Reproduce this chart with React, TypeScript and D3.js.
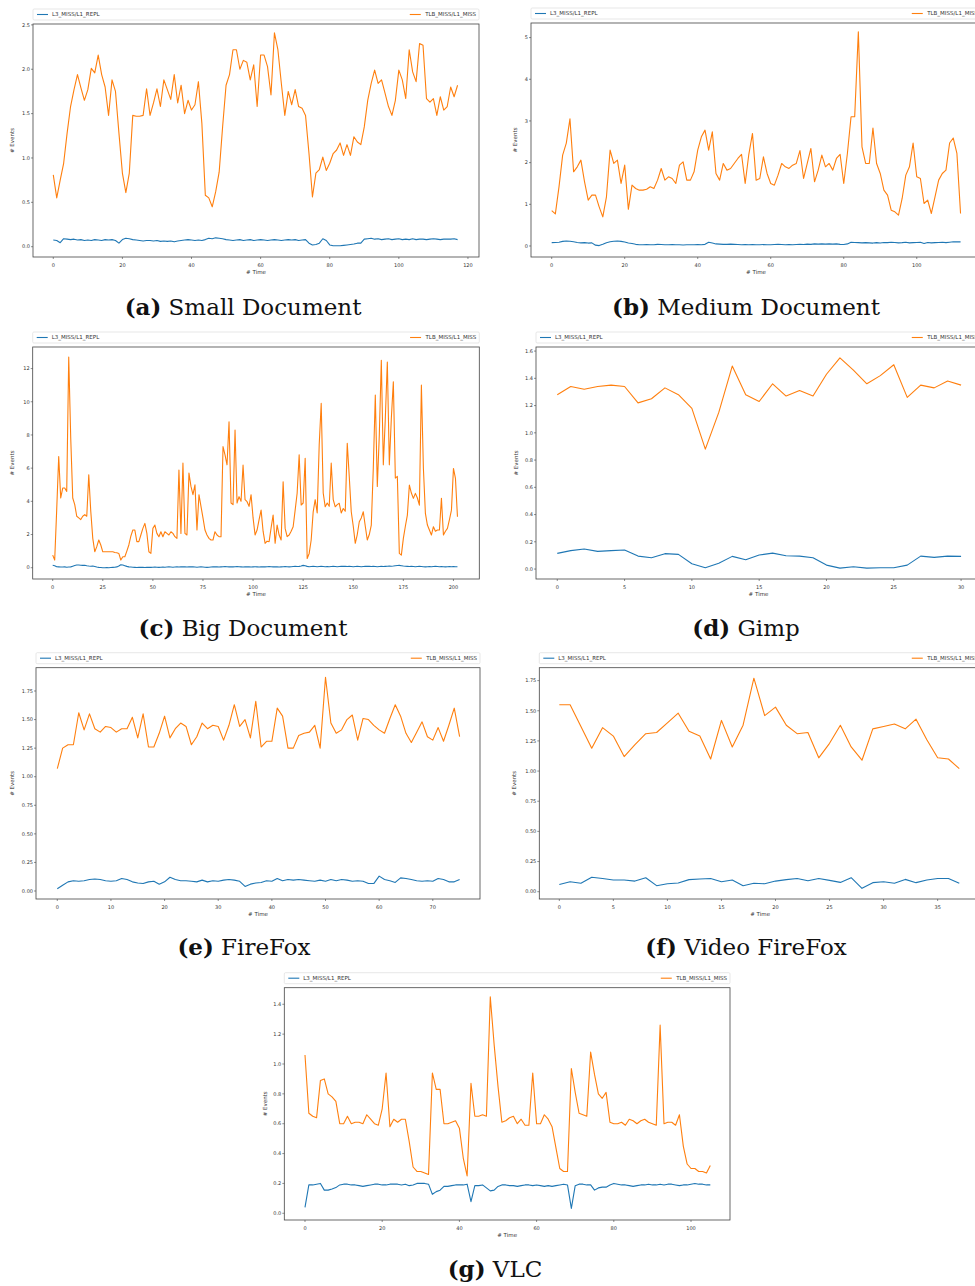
import React, { useEffect, useRef } from "react";
import * as d3 from "d3";

// ---------- DATA ----------
const smallTLB = [0.81,0.55,0.75,0.94,1.28,1.58,1.77,1.94,1.79,1.65,
1.77,2.01,1.96,2.16,1.94,1.80,1.48,1.88,1.75,1.28,
0.83,0.61,0.83,1.48,1.47,1.47,1.48,1.78,1.48,1.62,
1.78,1.58,1.88,1.77,1.66,1.94,1.62,1.82,1.50,1.65,
1.54,1.60,1.86,1.39,0.58,0.55,0.45,0.62,0.84,1.35,
1.82,1.94,2.22,2.22,2.00,2.10,2.08,1.88,2.05,1.58,
2.16,2.16,2.03,1.71,2.41,2.22,1.84,1.48,1.75,1.60,
1.77,1.58,1.56,1.48,1.05,0.56,0.83,0.87,1.01,0.86,
0.94,1.05,1.09,1.17,1.03,1.15,1.03,1.24,1.18,1.15,
1.35,1.65,1.84,1.99,1.84,1.88,1.73,1.58,1.48,1.65,
1.99,1.88,1.67,2.22,1.97,1.86,2.29,2.27,1.67,1.63,
1.67,1.48,1.69,1.54,1.58,1.80,1.69,1.82];
const smallL3 = [0.075,0.07,0.045,0.09,0.085,0.08,0.085,0.075,0.08,0.07,
0.075,0.07,0.08,0.075,0.07,0.08,0.075,0.08,0.07,0.04,
0.08,0.095,0.09,0.08,0.075,0.07,0.065,0.07,0.07,0.065,
0.07,0.06,0.065,0.06,0.065,0.055,0.065,0.07,0.075,0.08,
0.075,0.07,0.075,0.07,0.08,0.095,0.09,0.1,0.095,0.09,
0.08,0.075,0.07,0.075,0.08,0.07,0.075,0.08,0.07,0.075,
0.08,0.075,0.07,0.075,0.08,0.075,0.07,0.075,0.08,0.075,
0.08,0.07,0.075,0.08,0.04,0.02,0.025,0.04,0.09,0.07,
0.02,0.01,0.01,0.01,0.015,0.02,0.025,0.03,0.04,0.04,
0.085,0.09,0.095,0.085,0.09,0.08,0.085,0.09,0.08,0.085,
0.09,0.08,0.085,0.08,0.09,0.08,0.085,0.085,0.08,0.085,
0.09,0.085,0.08,0.085,0.085,0.085,0.09,0.08];

const medTLB = [0.85,0.77,1.42,2.18,2.47,3.05,1.78,1.90,2.06,1.54,
1.10,1.22,1.22,0.94,0.70,1.18,2.30,1.98,2.06,1.50,
1.94,0.88,1.46,1.38,1.34,1.34,1.36,1.42,1.38,1.58,
1.86,1.58,1.66,1.62,1.50,1.94,2.02,1.58,1.58,1.78,
2.30,2.62,2.78,2.30,2.74,1.74,1.58,1.98,1.82,1.86,
1.98,2.10,2.20,1.50,2.20,2.70,1.58,1.62,2.14,1.74,
1.50,1.46,1.70,1.98,1.90,1.86,1.94,1.98,2.29,1.62,
1.98,2.34,1.54,1.82,2.18,1.90,1.98,1.82,2.10,2.20,
1.50,2.22,3.10,3.10,5.14,2.38,1.98,1.98,2.83,1.98,
1.74,1.34,1.22,0.86,0.82,0.74,1.14,1.70,1.90,2.47,
1.66,1.62,1.02,1.10,0.78,1.18,1.58,1.74,1.82,2.47,
2.59,2.22,0.78];
const medL3 = [0.08,0.085,0.09,0.11,0.12,0.115,0.1,0.085,0.075,0.08,
0.07,0.075,0.02,0.01,0.04,0.08,0.1,0.115,0.12,0.11,
0.095,0.07,0.06,0.04,0.03,0.03,0.035,0.03,0.03,0.04,
0.035,0.03,0.03,0.035,0.03,0.03,0.025,0.03,0.03,0.03,
0.035,0.03,0.04,0.09,0.07,0.05,0.045,0.04,0.04,0.045,
0.04,0.035,0.03,0.035,0.03,0.035,0.03,0.03,0.035,0.03,
0.03,0.035,0.04,0.035,0.03,0.035,0.03,0.035,0.04,0.035,
0.045,0.04,0.05,0.045,0.05,0.045,0.05,0.045,0.05,0.04,
0.035,0.05,0.09,0.085,0.08,0.075,0.08,0.075,0.07,0.08,
0.07,0.085,0.08,0.09,0.085,0.075,0.08,0.09,0.075,0.08,
0.085,0.09,0.06,0.085,0.075,0.08,0.085,0.09,0.08,0.09,
0.1,0.1,0.1];

const bigTLB = [0.76,0.46,3.5,6.7,4.2,4.8,4.8,4.6,12.7,7.8,
4.2,3.8,3.1,3.0,2.9,3.1,3.2,3.1,5.6,3.4,
1.77,0.96,1.27,1.67,1.37,0.96,0.96,0.96,0.96,0.96,
0.96,0.92,0.90,0.86,0.46,0.66,0.66,1.0,1.37,1.9,
2.27,2.27,1.57,1.57,1.97,2.37,2.67,2.07,0.96,0.86,
2.37,2.57,2.07,1.87,2.17,1.87,2.17,2.07,1.97,2.17,
2.07,1.87,1.77,5.88,2.07,6.3,2.07,1.97,5.7,4.9,
4.4,5.0,2.27,4.4,3.7,3.0,2.27,1.97,1.77,1.67,
1.67,2.17,1.97,1.87,1.87,7.3,6.8,6.2,8.8,3.9,
3.8,8.3,3.9,4.28,4.0,6.18,4.1,3.98,3.7,4.4,
3.0,1.97,2.27,2.9,3.47,2.2,1.47,1.6,1.57,2.4,
3.17,1.47,2.57,1.97,1.67,5.18,2.37,1.87,1.97,2.2,
2.47,3.47,4.5,6.8,3.78,3.9,6.6,0.56,0.86,1.67,
3.37,4.1,3.3,7.4,9.9,4.5,3.67,3.9,3.7,6.3,
4.1,3.67,3.8,3.88,3.3,3.57,3.4,7.5,5.5,3.37,
2.5,1.47,2.0,2.77,3.0,3.37,2.5,1.67,2.0,2.57,
6.0,10.4,4.9,8.0,12.5,6.2,9.0,12.4,6.2,9.0,
11.2,5.4,5.5,0.86,0.76,1.77,2.5,3.17,4.98,4.5,
4.18,4.48,4.2,3.77,11.0,6.0,3.27,2.57,2.27,1.97,
2.47,2.2,2.27,2.27,4.18,1.97,2.2,2.37,2.9,3.47,
5.98,5.38,3.07];
const bigL3 = [0.15,0.12,0.06,0.05,0.04,0.04,0.05,0.03,0.04,0.05,
0.09,0.13,0.16,0.16,0.15,0.14,0.15,0.12,0.10,0.09,
0.10,0.07,0.04,0.02,0.01,0.00,0.00,0.01,0.00,0.01,
0.02,0.03,0.05,0.10,0.18,0.16,0.12,0.08,0.05,0.04,
0.03,0.02,0.01,0.02,0.03,0.02,0.01,0.02,0.03,0.02,
0.03,0.04,0.03,0.02,0.03,0.04,0.03,0.04,0.05,0.04,
0.03,0.04,0.05,0.04,0.05,0.06,0.05,0.04,0.05,0.06,
0.05,0.04,0.03,0.04,0.05,0.04,0.03,0.02,0.03,0.04,
0.05,0.06,0.05,0.04,0.05,0.06,0.07,0.06,0.05,0.06,
0.05,0.06,0.07,0.06,0.05,0.04,0.05,0.06,0.05,0.04,
0.05,0.06,0.05,0.04,0.05,0.06,0.05,0.06,0.07,0.06,
0.05,0.06,0.05,0.04,0.05,0.06,0.07,0.06,0.05,0.06,
0.07,0.08,0.07,0.08,0.10,0.14,0.12,0.08,0.06,0.07,
0.08,0.07,0.06,0.07,0.08,0.07,0.06,0.07,0.06,0.07,
0.08,0.07,0.06,0.07,0.08,0.09,0.08,0.07,0.08,0.07,
0.06,0.07,0.08,0.07,0.06,0.07,0.08,0.09,0.08,0.07,
0.08,0.07,0.06,0.07,0.08,0.07,0.08,0.09,0.10,0.09,
0.10,0.12,0.13,0.14,0.12,0.10,0.09,0.08,0.07,0.08,
0.07,0.06,0.07,0.08,0.07,0.06,0.05,0.06,0.07,0.06,
0.07,0.08,0.07,0.06,0.07,0.06,0.05,0.06,0.07,0.06,
0.07,0.06,0.06];

const gimpTLB = [1.28,1.34,1.32,1.34,1.35,1.34,1.22,1.25,1.33,1.28,
1.18,0.88,1.15,1.49,1.28,1.23,1.36,1.27,1.31,1.27,
1.43,1.55,1.46,1.36,1.42,1.50,1.26,1.35,1.33,1.38,1.35];
const gimpL3 = [0.115,0.135,0.147,0.13,0.135,0.14,0.095,0.083,0.113,0.108,
0.039,0.01,0.042,0.093,0.068,0.103,0.117,0.098,0.095,0.083,
0.029,0.007,0.017,0.007,0.01,0.01,0.029,0.095,0.086,0.095,0.093];

const ffTLB = [1.07,1.25,1.28,1.28,1.56,1.41,1.55,1.42,1.39,1.44,
1.43,1.39,1.42,1.42,1.52,1.34,1.55,1.26,1.26,1.38,
1.53,1.34,1.42,1.47,1.44,1.28,1.35,1.47,1.42,1.45,
1.44,1.32,1.45,1.63,1.44,1.50,1.34,1.66,1.26,1.31,
1.31,1.60,1.53,1.25,1.25,1.36,1.38,1.39,1.45,1.25,
1.87,1.47,1.38,1.41,1.50,1.54,1.32,1.51,1.50,1.45,
1.41,1.38,1.51,1.63,1.53,1.38,1.30,1.39,1.48,1.35,
1.32,1.43,1.31,1.45,1.60,1.35];
const ffL3 = [0.02,0.05,0.08,0.09,0.085,0.09,0.1,0.105,0.1,0.09,
0.085,0.09,0.11,0.1,0.08,0.07,0.065,0.08,0.085,0.06,
0.08,0.12,0.1,0.09,0.09,0.085,0.08,0.095,0.08,0.09,
0.085,0.095,0.1,0.095,0.085,0.04,0.06,0.07,0.075,0.09,
0.085,0.11,0.09,0.1,0.095,0.1,0.095,0.09,0.085,0.095,
0.085,0.1,0.09,0.1,0.095,0.085,0.09,0.085,0.065,0.065,
0.13,0.1,0.09,0.075,0.115,0.11,0.1,0.09,0.085,0.09,
0.085,0.11,0.1,0.08,0.08,0.1];

const vffTLB = [1.55,1.55,1.37,1.19,1.36,1.29,1.12,1.22,1.31,1.32,
1.40,1.48,1.33,1.29,1.10,1.42,1.20,1.38,1.77,1.46,
1.53,1.38,1.31,1.32,1.11,1.23,1.38,1.20,1.09,1.35,
1.37,1.39,1.35,1.43,1.26,1.11,1.10,1.02];
const vffL3 = [0.06,0.083,0.07,0.12,0.11,0.097,0.097,0.088,0.116,0.05,
0.066,0.072,0.10,0.105,0.11,0.083,0.097,0.05,0.07,0.066,
0.088,0.10,0.11,0.091,0.11,0.094,0.077,0.116,0.028,0.075,
0.083,0.07,0.102,0.075,0.097,0.11,0.11,0.07];

const vlcTLB = [1.06,0.67,0.65,0.64,0.89,0.90,0.80,0.78,0.75,0.60,
0.60,0.65,0.60,0.61,0.61,0.60,0.66,0.63,0.60,0.59,
0.70,0.94,0.58,0.63,0.61,0.63,0.63,0.48,0.31,0.28,
0.28,0.27,0.26,0.94,0.83,0.83,0.60,0.60,0.61,0.62,
0.57,0.37,0.25,0.87,0.65,0.65,0.66,0.65,1.45,1.13,
0.85,0.61,0.62,0.64,0.65,0.60,0.63,0.59,0.59,0.94,
0.60,0.60,0.66,0.63,0.58,0.44,0.30,0.28,0.28,0.97,
0.81,0.67,0.66,0.65,1.08,0.93,0.80,0.77,0.81,0.61,
0.60,0.60,0.61,0.59,0.63,0.62,0.60,0.62,0.63,0.61,
0.60,0.59,1.26,0.60,0.61,0.61,0.59,0.66,0.45,0.33,
0.30,0.30,0.28,0.28,0.27,0.32];
const vlcL3 = [0.04,0.19,0.19,0.195,0.2,0.155,0.155,0.163,0.172,0.19,
0.195,0.195,0.19,0.19,0.185,0.18,0.185,0.19,0.195,0.195,
0.19,0.19,0.195,0.195,0.195,0.19,0.195,0.185,0.19,0.2,
0.2,0.2,0.195,0.127,0.145,0.155,0.18,0.18,0.185,0.19,
0.19,0.19,0.195,0.078,0.185,0.185,0.19,0.17,0.15,0.155,
0.18,0.19,0.19,0.185,0.185,0.18,0.185,0.19,0.19,0.185,
0.19,0.185,0.18,0.185,0.18,0.185,0.19,0.195,0.19,0.033,
0.185,0.195,0.195,0.19,0.19,0.155,0.17,0.175,0.175,0.19,
0.2,0.195,0.19,0.19,0.185,0.18,0.185,0.19,0.19,0.195,
0.19,0.19,0.195,0.19,0.195,0.195,0.19,0.185,0.19,0.19,
0.195,0.2,0.195,0.195,0.19,0.19];

const seriesNames = ["L3_MISS/L1_REPL", "TLB_MISS/L1_MISS"];
const captionLabels = ["(a)", "(b)", "(c)", "(d)", "(e)", "(f)", "(g)"];
const captionTexts = ["Small Document", "Medium Document", "Big Document", "Gimp", "FireFox", "Video FireFox", "VLC"];

const xTicksA = [0, 20, 40, 60, 80, 100, 120];
const yTicksA = [0, 0.5, 1.0, 1.5, 2.0, 2.5];
const xTicksB = [0, 20, 40, 60, 80, 100];
const yTicksB = [0, 1, 2, 3, 4, 5];
const xTicksC = [0, 25, 50, 75, 100, 125, 150, 175, 200];
const yTicksC = [0, 2, 4, 6, 8, 10, 12];
const xTicksD = [0, 5, 10, 15, 20, 25, 30];
const yTicksD = [0, 0.2, 0.4, 0.6, 0.8, 1.0, 1.2, 1.4, 1.6];
const xTicksE = [0, 10, 20, 30, 40, 50, 60, 70];
const yTicksE = [0, 0.25, 0.5, 0.75, 1.0, 1.25, 1.5, 1.75];
const xTicksF = [0, 5, 10, 15, 20, 25, 30, 35];
const yTicksF = [0, 0.25, 0.5, 0.75, 1.0, 1.25, 1.5, 1.75];
const xTicksG = [0, 20, 40, 60, 80, 100];
const yTicksG = [0, 0.2, 0.4, 0.6, 0.8, 1.0, 1.2, 1.4];

// ---------- LAYOUT ----------
type Panel = {
  l3: number[]; tlb: number[];
  xTicks: number[]; yTicks: number[]; yFmt: string;
  box: { l: number; r: number; t: number; b: number };
  xDom: [number, number]; yDom: [number, number];
  ylabDx: number; capX: number; capY: number;
};

const panels: Panel[] = [
  { l3: smallL3, tlb: smallTLB, xTicks: xTicksA, yTicks: yTicksA, yFmt: ".1f",
    box: { l: 33, r: 479, t: 24, b: 257 }, xDom: [-5.87, 123.2], yDom: [-0.116, 2.51], ylabDx: -21, capX: 243, capY: 315 },
  { l3: medL3, tlb: medTLB, xTicks: xTicksB, yTicks: yTicksB, yFmt: "d",
    box: { l: 531, r: 981, t: 23, b: 257 }, xDom: [-5.67, 117.6], yDom: [-0.264, 5.35], ylabDx: -16, capX: 746, capY: 315 },
  { l3: bigL3, tlb: bigTLB, xTicks: xTicksC, yTicks: yTicksC, yFmt: "d",
    box: { l: 32.7, r: 479.3, t: 347, b: 579 }, xDom: [-9.98, 212.9], yDom: [-0.68, 13.3], ylabDx: -21, capX: 243, capY: 636 },
  { l3: gimpL3, tlb: gimpTLB, xTicks: xTicksD, yTicks: yTicksD, yFmt: ".1f",
    box: { l: 536, r: 981, t: 347, b: 579 }, xDom: [-1.58, 31.48], yDom: [-0.073, 1.63], ylabDx: -20, capX: 746, capY: 636 },
  { l3: ffL3, tlb: ffTLB, xTicks: xTicksE, yTicks: yTicksE, yFmt: ".2f",
    box: { l: 36, r: 480, t: 667.7, b: 899 }, xDom: [-3.97, 78.8], yDom: [-0.07, 1.954], ylabDx: -24, capX: 244, capY: 955 },
  { l3: vffL3, tlb: vffTLB, xTicks: xTicksF, yTicks: yTicksF, yFmt: ".2f",
    box: { l: 539.3, r: 981, t: 667.7, b: 899 }, xDom: [-1.85, 39.01], yDom: [-0.0605, 1.857], ylabDx: -25, capX: 746, capY: 955 },
  { l3: vlcL3, tlb: vlcTLB, xTicks: xTicksG, yTicks: yTicksG, yFmt: ".1f",
    box: { l: 284.3, r: 730, t: 987.7, b: 1220 }, xDom: [-5.36, 110.1], yDom: [-0.045, 1.511], ylabDx: -19, capX: 495, capY: 1277 },
];

const BLUE = "#1f77b4";
const ORANGE = "#ff7f0e";
const SANS = "DejaVu Sans, sans-serif";
const TICK_FS = 5;
const LEG_FS = 5.5;

function drawPanel(svg: d3.Selection<SVGSVGElement, unknown, null, undefined>, p: Panel, idx: number) {
  const { l, r, t, b } = p.box;
  const x = d3.scaleLinear().domain(p.xDom).range([l, r]);
  const y = d3.scaleLinear().domain(p.yDom).range([b, t]);
  const g = svg.append("g");
  const clipId = `clip-${idx}`;
  g.append("clipPath").attr("id", clipId).append("rect")
    .attr("x", l).attr("y", t).attr("width", r - l).attr("height", b - t);

  const line = d3.line<number>().x((_, i) => x(i)).y((d) => y(d));
  const plot = g.append("g").attr("clip-path", `url(#${clipId})`);
  plot.append("path").attr("d", line(p.l3) as string).attr("fill", "none")
    .attr("stroke", BLUE).attr("stroke-width", 1.1).attr("stroke-linejoin", "round");
  plot.append("path").attr("d", line(p.tlb) as string).attr("fill", "none")
    .attr("stroke", ORANGE).attr("stroke-width", 1.1).attr("stroke-linejoin", "round");

  // frame
  g.append("rect").attr("x", l).attr("y", t).attr("width", r - l).attr("height", b - t)
    .attr("fill", "none").attr("stroke", "#444").attr("stroke-width", 0.8);

  // x ticks
  const xFmt = d3.format("d");
  p.xTicks.forEach((v) => {
    const px = x(v);
    g.append("line").attr("x1", px).attr("x2", px).attr("y1", b).attr("y2", b + 2)
      .attr("stroke", "#444").attr("stroke-width", 0.6);
    g.append("text").attr("x", px).attr("y", b + 9.5).attr("text-anchor", "middle")
      .attr("font-family", SANS).attr("font-size", TICK_FS).attr("fill", "#333").text(xFmt(v));
  });
  // y ticks
  const yFmt = d3.format(p.yFmt);
  p.yTicks.forEach((v) => {
    const py = y(v);
    g.append("line").attr("x1", l - 2).attr("x2", l).attr("y1", py).attr("y2", py)
      .attr("stroke", "#444").attr("stroke-width", 0.6);
    g.append("text").attr("x", l - 3).attr("y", py).attr("dy", "0.35em").attr("text-anchor", "end")
      .attr("font-family", SANS).attr("font-size", TICK_FS).attr("fill", "#333").text(yFmt(v));
  });

  // axis labels
  g.append("text").attr("transform", `translate(${l + p.ylabDx},${(t + b) / 2}) rotate(-90)`)
    .attr("text-anchor", "middle").attr("dy", "0.35em")
    .attr("font-family", SANS).attr("font-size", LEG_FS).attr("fill", "#333").text("# Events");
  g.append("text").attr("x", (l + r) / 2).attr("y", b + 17).attr("text-anchor", "middle")
    .attr("font-family", SANS).attr("font-size", LEG_FS).attr("fill", "#333").text("# Time");

  // legend
  const lt = t - 15, lb = t - 4, lc = (lt + lb) / 2;
  g.append("rect").attr("x", l).attr("y", lt).attr("width", r - l).attr("height", lb - lt)
    .attr("rx", 1.2).attr("fill", "#fff").attr("stroke", "#ddd").attr("stroke-width", 0.7);
  g.append("line").attr("x1", l + 4).attr("x2", l + 15).attr("y1", lc).attr("y2", lc)
    .attr("stroke", BLUE).attr("stroke-width", 1.1);
  g.append("text").attr("x", l + 19).attr("y", lc).attr("dy", "0.35em")
    .attr("font-family", SANS).attr("font-size", LEG_FS).attr("fill", "#333").text(seriesNames[0]);
  const rt = g.append("text").attr("x", r - 3).attr("y", lc).attr("dy", "0.35em").attr("text-anchor", "end")
    .attr("font-family", SANS).attr("font-size", LEG_FS).attr("fill", "#333").text(seriesNames[1]);
  const w = (rt.node() as SVGTextElement).getComputedTextLength();
  const hx = r - 3 - w - 4.4;
  g.append("line").attr("x1", hx - 11).attr("x2", hx).attr("y1", lc).attr("y2", lc)
    .attr("stroke", ORANGE).attr("stroke-width", 1.1);

  // caption
  const cap = g.append("text").attr("x", p.capX).attr("y", p.capY).attr("text-anchor", "middle")
    .attr("font-family", "DejaVu Serif, serif").attr("font-size", 23).attr("fill", "#111");
  cap.append("tspan").attr("font-weight", "bold").text(captionLabels[idx]);
  cap.append("tspan").text(" " + captionTexts[idx]);
}

export default function App() {
  const ref = useRef<SVGSVGElement>(null);
  useEffect(() => {
    if (!ref.current) return;
    const svg = d3.select(ref.current);
    svg.selectAll("*").remove();
    panels.forEach((p, i) => drawPanel(svg, p, i));
  }, []);
  return (
    <div style={{ position: "absolute", left: 0, top: 0 }}>
      <svg ref={ref} width={975} height={1286} style={{ display: "block", background: "#fff" }} />
    </div>
  );
}
